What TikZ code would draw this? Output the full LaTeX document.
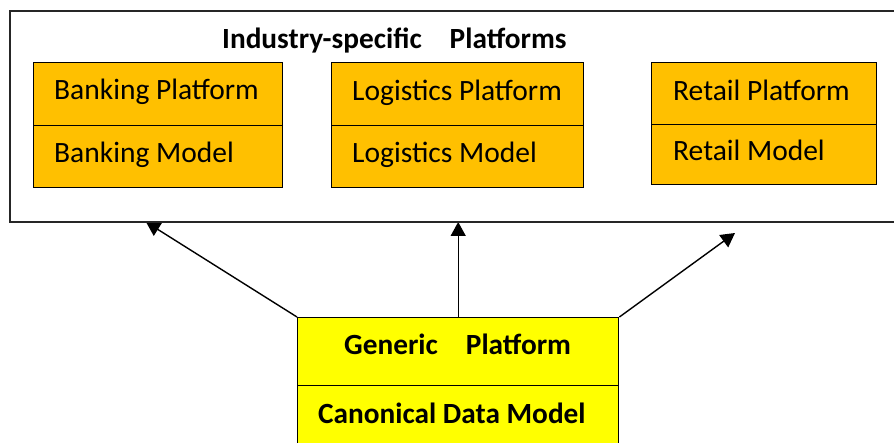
\documentclass[tikz,border=0pt]{standalone}
\usepackage{fontspec}
\setmainfont{Carlito}
\usetikzlibrary{arrows.meta}
\definecolor{orangeC}{HTML}{FFC000}
\definecolor{yellowC}{HTML}{FFFF00}
\begin{document}
\begin{tikzpicture}[x=1pt,y=-1pt,
  cell/.style={draw=black, line width=1.4pt, fill=orangeC, anchor=north west, inner sep=0pt},
  gcell/.style={draw=black, line width=1.4pt, fill=yellowC, anchor=north west, inner sep=0pt, minimum width=321pt},
  lbl/.style={anchor=base west, inner sep=0pt, font=\fontsize{29.5}{34}\selectfont},
  blbl/.style={anchor=base west, inner sep=0pt, font=\fontsize{29.3}{34}\selectfont\bfseries},
  conn/.style={line width=1.4pt, -{Triangle[length=14pt,width=15pt]}}]
\useasboundingbox (0,0) rectangle (894,443);
\clip (0,0) rectangle (894,443);
% connectors first, frame over them
\node[gcell, minimum height=68pt] (gp) at (297,317) {};
\coordinate (t1) at (146,222);
\coordinate (t2) at (456,222);
\coordinate (t3) at (735,233);
\draw[conn] (gp.north west) -- (t1);
\draw[conn] (gp.north) -- (gp.north |- t2);
\draw[conn] (gp.north east) -- (t3);
% outer frame
\node[draw=black!85, line width=1.6pt, fill=white, anchor=north west, inner sep=0pt,
      minimum width=895pt, minimum height=211pt] (frame) at (9,10) {};
\node[blbl] (title) at (222,49) {Industry-specific\hspace{28pt}Platforms};
% banking
\node[cell, minimum width=249pt, minimum height=63pt] (bpf) at (33,62) {};
\node[cell, minimum width=249pt, minimum height=62pt] (bmd) at (33,125) {};
\node[lbl] (bpft) at (54,100) {Banking Platform};
\node[lbl] (bmdt) at (54,163) {Banking Model};
% logistics
\node[cell, minimum width=252pt, minimum height=63pt] (lpf) at (331,62) {};
\node[cell, minimum width=252pt, minimum height=62pt] (lmd) at (331,125) {};
\node[lbl] (lpft) at (352,101) {Logistics Platform};
\node[lbl] (lmdt) at (352,163) {Logistics Model};
% retail
\node[cell, minimum width=225pt, minimum height=62pt] (rpf) at (651,62) {};
\node[cell, minimum width=225pt, minimum height=60pt] (rmd) at (651,124) {};
\node[lbl] (rpft) at (673,101) {Retail Platform};
\node[lbl] (rmdt) at (673,161) {Retail Model};
% generic
\node[gcell, minimum height=80pt] (cdm) at (297,385) {};
\node[blbl] (gpt) at (344,355) {Generic\hspace{28pt}Platform};
\node[blbl] (cdmt) at (318,423) {Canonical Data Model};
\end{tikzpicture}
\end{document}
